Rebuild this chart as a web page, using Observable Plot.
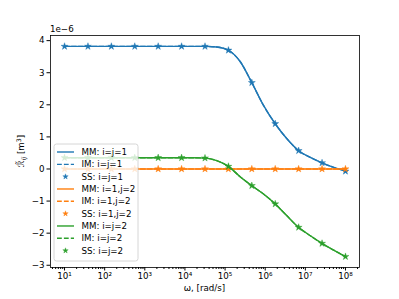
<!DOCTYPE html>
<html><head><meta charset="utf-8">
<script src="https://cdn.jsdelivr.net/npm/d3@7"></script>
<script src="https://cdn.jsdelivr.net/npm/@observablehq/plot@0.6"></script>
<style>body{margin:0;background:#fff}svg{display:block}</style>
</head><body><div id="chart"></div><script>
// SS sample frequencies (rad/s)
const omegaSS = [10, 38.31, 146.8, 562.3, 2154.4, 8254, 31623, 121153, 464159, 1778279, 6812921, 26101572, 1e8];
// fine frequencies for MM / IM curves
const omegaFine = [10, 19.57, 38.31, 74.99, 146.8, 287.3, 562.3, 1100.6, 2154.4, 4217, 8254, 16155, 31623,
  61897, 121153, 237137, 464159, 908518, 1778279, 3480700, 6812921, 13335214, 26101572, 51089698, 1e8];
// values in units of 1e-6 m^3
const mm11 = [3.82,3.82,3.82,3.82,3.82,3.82,3.82,3.82,3.82,3.82,3.82,3.82,3.82,3.80,3.70,3.35,2.69,1.98,1.41,0.94,0.57,0.36,0.19,0.05,-0.06];
const mm12 = [0,0,0,0,0,0,0,0,0,0,0,0,0,0,0,0,0,0,0,0,0,0,0,0,0];
const mm22 = [0.35,0.35,0.35,0.35,0.35,0.35,0.35,0.35,0.35,0.35,0.35,0.35,0.34,0.26,0.08,-0.24,-0.52,-0.78,-1.09,-1.46,-1.82,-2.08,-2.32,-2.53,-2.73];
const im11 = mm11, im12 = mm12, im22 = mm22;
const ss11 = [3.82,3.82,3.82,3.82,3.82,3.82,3.82,3.70,2.69,1.41,0.57,0.19,-0.07];
const ss12 = [0,0,0,0,0,0,0,0,0,0,0,0,0];
const ss22 = [0.35,0.35,0.35,0.35,0.35,0.35,0.34,0.08,-0.52,-1.09,-1.82,-2.32,-2.73];
const pairLabels = ["i=j=1", "i=1,j=2", "i=j=2"];
const colors = ["#1f77b4", "#ff7f0e", "#2ca02c"];
const yTicks = [-3, -2, -1, 0, 1, 2, 3, 4];
const xMajor = [1e1, 1e2, 1e3, 1e4, 1e5, 1e6, 1e7, 1e8];
const xMajorLabels = ["10¹", "10²", "10³", "10⁴", "10⁵", "10⁶", "10⁷", "10⁸"];
const xMinor = [];
for (let e = 0; e <= 8; e++) for (let m = 2; m <= 9; m++) { const v = m * 10 ** e; if (v > 10 ** 0.65 && v < 10 ** 8.35) xMinor.push(v); }

const mmSets = [mm11, mm12, mm22], imSets = [im11, im12, im22], ssSets = [ss11, ss12, ss22];
const series = [];
mmSets.forEach((arr, s) => {
  series.push(Plot.line(omegaFine.map((w, i) => ({w, v: arr[i]})), {x: "w", y: "v", stroke: colors[s], strokeWidth: 1.4, curve: "monotone-x"}));
  series.push(Plot.line(omegaFine.map((w, i) => ({w, v: imSets[s][i]})), {x: "w", y: "v", stroke: colors[s], strokeWidth: 1.4, strokeDasharray: "4.8,2.1", curve: "monotone-x"}));
  series.push(Plot.dot(omegaSS.map((w, i) => ({w, v: ssSets[s][i]})), {x: "w", y: "v", symbol: "star", fill: colors[s], stroke: colors[s], strokeWidth: 0.4, r: 2.2}));
});

const chart = Plot.plot({
  width: 399, height: 299,
  marginLeft: 50, marginRight: 40, marginTop: 35, marginBottom: 32,
  style: {fontFamily: "DejaVu Sans", fontSize: "8.7px", background: "white", color: "black", overflow: "visible"},
  x: {type: "log", domain: [10 ** 0.65, 10 ** 8.35]},
  y: {domain: [-3.07, 4.16]},
  marks: [
    ...series,
    Plot.axisY(yTicks, {tickSize: 3.5, tickPadding: 2.5, tickFormat: d => d < 0 ? "−" + (-d) : String(d), label: null}),
    Plot.axisX(xMajor, {tickSize: 3.5, tickPadding: 2, tickFormat: (d) => xMajorLabels[xMajor.indexOf(d)], label: null}),
    Plot.axisX(xMinor, {tickSize: 2, tickFormat: () => "", label: null}),
    Plot.frame({stroke: "black", strokeWidth: 0.8})
  ]
});
document.getElementById("chart").appendChild(chart);

const svg = d3.select(chart);
const font = "DejaVu Sans";
// offset text
svg.append("text").attr("x", 50).attr("y", 32).attr("text-anchor", "start").attr("font-family", font).attr("font-size", 8.7).text("1e−6");
// x label
svg.append("text").attr("x", 204.5).attr("y", 291).attr("text-anchor", "middle").attr("font-family", font).attr("font-size", 8.7).text("ω, [rad/s]");
// y label
const yl = svg.append("text").attr("transform", "translate(24,151) rotate(-90)").attr("text-anchor", "middle").attr("font-family", font).attr("font-size", 8.7);
yl.append("tspan").attr("font-style", "italic").text("ℛ̃");
yl.append("tspan").attr("font-size", 6.2).attr("dy", 2).attr("font-style", "italic").text("ij");
yl.append("tspan").attr("dy", -2).text(" [m");
yl.append("tspan").attr("font-size", 6.2).attr("dy", -3.5).text("3");
yl.append("tspan").attr("dy", 3.5).text("]");

// legend
const lg = svg.append("g");
lg.append("rect").attr("x", 54).attr("y", 144).attr("width", 84).attr("height", 117).attr("rx", 2.5)
  .attr("fill", "white").attr("fill-opacity", 0.8).attr("stroke", "#cccccc").attr("stroke-width", 0.8);
const kinds = ["MM", "IM", "SS"];
let row = 0;
pairLabels.forEach((p, s) => {
  kinds.forEach(k => {
    const y = 152 + row * 12.33;
    if (k === "SS") {
      lg.append("path").attr("d", d3.symbol(d3.symbolStar, 9)()).attr("transform", `translate(65.5,${y})`).attr("fill", colors[s]).attr("stroke", colors[s]).attr("stroke-width", 0.4);
    } else {
      lg.append("line").attr("x1", 57).attr("x2", 74).attr("y1", y).attr("y2", y).attr("stroke", colors[s]).attr("stroke-width", 1.4)
        .attr("stroke-dasharray", k === "IM" ? "4.8,2.1" : null);
    }
    lg.append("text").attr("x", 81.5).attr("y", y).attr("dy", "0.35em").attr("text-anchor", "start").attr("font-family", font).attr("font-size", 8.7).text(`${k}: ${p}`);
    row++;
  });
});
</script></body></html>
